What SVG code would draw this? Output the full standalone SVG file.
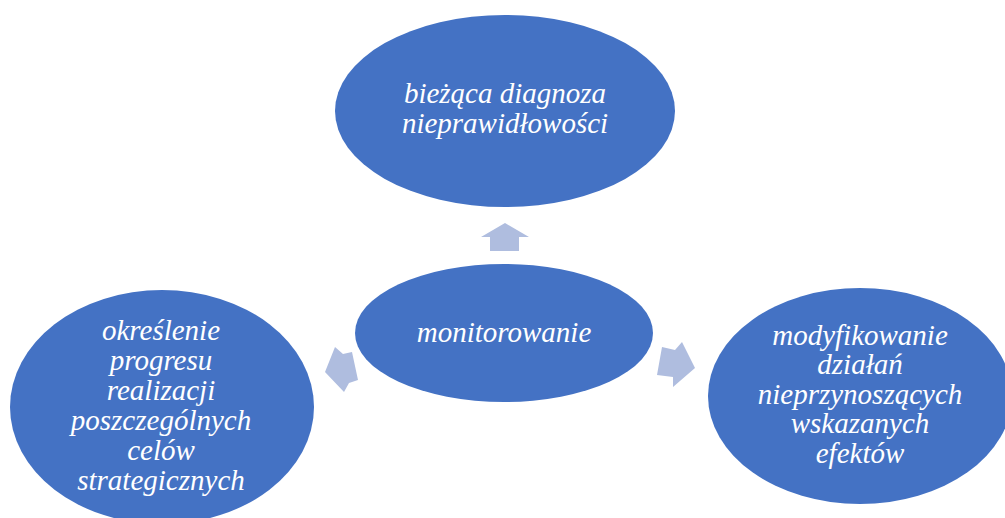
<svg xmlns="http://www.w3.org/2000/svg" width="1005" height="518" viewBox="0 0 1005 518">
<style>
.node{fill:#4472C4;}
.lbl{fill:#FFFFFF;font-family:"Liberation Serif","Times New Roman",serif;font-style:italic;font-size:29px;text-anchor:middle;}
.arr{fill:#AFBDDF;}
</style>
<rect width="1005" height="518" fill="#FFFFFF"/>
<g id="connectors">
<polygon class="arr" points="505,223 529,237 519,237 519,251 490,251 490,237 481,237"/>
<polygon class="arr" points="325,372 335,347 343,354 352,352 358,380 349,383 344,392"/>
<polygon class="arr" points="695,368 673,387 673,377 657,375 662,347 675,350 682,342"/>
</g>
<g id="node-top">
<ellipse class="node" cx="505" cy="111" rx="170" ry="96"/>
<text class="lbl" x="505" y="103">bieżąca diagnoza</text>
<text class="lbl" x="505" y="133">nieprawidłowości</text>
</g>
<g id="node-center">
<ellipse class="node" cx="504" cy="333" rx="149" ry="69"/>
<text class="lbl" x="504" y="342">monitorowanie</text>
</g>
<g id="node-left">
<ellipse class="node" cx="162" cy="407" rx="152" ry="117"/>
<text class="lbl" x="161" y="340">określenie</text>
<text class="lbl" x="161" y="370">progresu</text>
<text class="lbl" x="161" y="400">realizacji</text>
<text class="lbl" x="161" y="430">poszczególnych</text>
<text class="lbl" x="161" y="460">celów</text>
<text class="lbl" x="161" y="490">strategicznych</text>
</g>
<g id="node-right">
<ellipse class="node" cx="860" cy="396" rx="152" ry="108"/>
<text class="lbl" x="860" y="345">modyfikowanie</text>
<text class="lbl" x="860" y="374">działań</text>
<text class="lbl" x="860" y="404">nieprzynoszących</text>
<text class="lbl" x="860" y="433">wskazanych</text>
<text class="lbl" x="860" y="463">efektów</text>
</g>
</svg>
